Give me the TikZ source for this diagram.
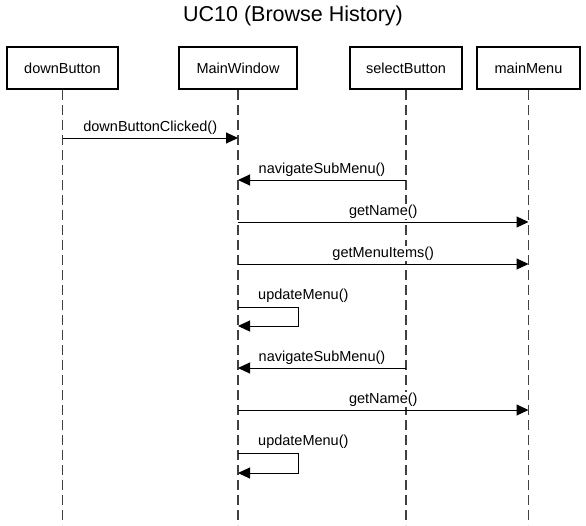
\documentclass[tikz,border=0pt]{standalone}
\usepackage{fontspec}
\setmainfont{Liberation Sans}
\usetikzlibrary{arrows.meta}
\begin{document}
\begin{tikzpicture}[x=1pt,y=-1pt,
  actor/.style={draw,line width=2pt,minimum height=42pt,inner sep=0pt,font=\fontsize{14.5}{16}\selectfont},
  life/.style={draw,line width=1.1pt,dash pattern=on 10pt off 5pt,color=black!75},
  msg/.style={draw,line width=1pt,-{Triangle[length=12pt,width=11pt]}},
  lbl/.style={font=\fontsize{14.5}{16}\selectfont,fill=white,inner sep=0.5pt,anchor=south,yshift=2.5pt},
  slbl/.style={font=\fontsize{14.5}{16}\selectfont,fill=white,inner sep=0.5pt,anchor=south west,yshift=3.5pt}]
\useasboundingbox (0,0) rectangle (586,525);
\node[font=\fontsize{21.5}{24}\selectfont] (title) at (293,16) {UC10 (Browse History)};
\node[actor,minimum width=111pt] (db) at (62.5,68) {downButton};
\node[actor,minimum width=118pt] (mw) at (238,68) {MainWindow};
\node[actor,minimum width=112pt] (sb) at (406,68) {selectButton};
\node[actor,minimum width=103pt] (mm) at (528.5,68) {mainMenu};
\coordinate (dbe) at (db.south |- 0,525);
\coordinate (mwe) at (mw.south |- 0,525);
\coordinate (sbe) at (sb.south |- 0,525);
\coordinate (mme) at (mm.south |- 0,525);
\draw[life] (db.south) -- (dbe);
\draw[life] (mw.south) -- (mwe);
\draw[life] (sb.south) -- (sbe);
\draw[life] (mm.south) -- (mme);
% messages
\draw[msg] (db |- 0,138) -- node[lbl] {downButtonClicked()} (mw |- 0,138);
\draw[msg] (sb |- 0,180) -- node[lbl] {navigateSubMenu()} (mw |- 0,180);
\draw[msg] (mw |- 0,222) -- node[lbl] {getName()} (mm |- 0,222);
\draw[msg] (mw |- 0,264) -- node[lbl] {getMenuItems()} (mm |- 0,264);
\draw[msg] (mw |- 0,307) -- ++(60,0) |- (mw |- 0,326);
\node[slbl] (u1) at ([xshift=19.5pt]mw |- 0,307) {updateMenu()};
\draw[msg] (sb |- 0,368) -- node[lbl] {navigateSubMenu()} (mw |- 0,368);
\draw[msg] (mw |- 0,410) -- node[lbl] {getName()} (mm |- 0,410);
\draw[msg] (mw |- 0,453) -- ++(60,0) |- (mw |- 0,473);
\node[slbl] (u2) at ([xshift=19.5pt]mw |- 0,453) {updateMenu()};
\end{tikzpicture}
\end{document}
